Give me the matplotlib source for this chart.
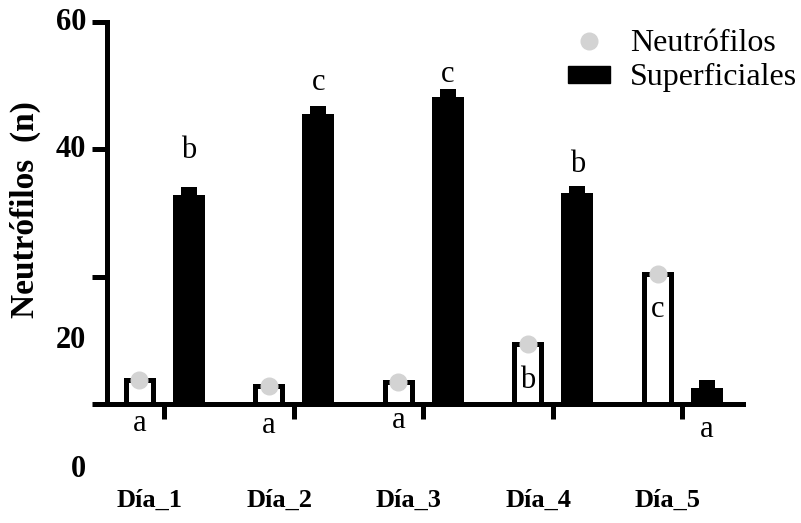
import matplotlib
matplotlib.use("Agg")
import matplotlib.pyplot as plt
from matplotlib.lines import Line2D
from matplotlib.patches import Patch
import numpy as np

plt.rcParams['font.family'] = ['Liberation Serif', 'DejaVu Serif']

# ---- data ----
days = ["Día_1", "Día_2", "Día_3", "Día_4", "Día_5"]
neutrofilos = [3.7, 2.8, 3.5, 9.5, 20.4]
superficiales = [32.8, 45.5, 48.2, 33.1, 2.5]
superficiales_err = [1.3, 1.3, 1.2, 1.2, 1.3]
letters_neu = ["a", "a", "a", "b", "c"]
letters_sup = ["b", "c", "c", "b", "a"]
y_ticks = [0, 20, 40, 60]
y_tick_labels = ["0", "20", "40", "60"]

# ---- layout / style ----
W, H = 801, 523
fig = plt.figure(figsize=(W / 100, H / 100), dpi=100)
ax = fig.add_axes([107 / W, 119 / H, 636 / W, 382 / H])
ax.set_xlim(-0.44, 4.47)
ax.set_ylim(0, 60)

x = np.arange(len(days))
off = 0.19
lw = 3.6

# Superficiales bars + thick error block
ax.bar(x + off, superficiales, width=0.247, color="black", zorder=2)
ax.bar(x + off, superficiales_err, bottom=superficiales, width=0.1235,
       color="black", zorder=2)

# Neutrófilos open bars + gray points
ax.bar(x - off, neutrofilos, width=0.2085, facecolor="white",
       edgecolor="black", linewidth=lw, zorder=2)
ax.plot(x - off, neutrofilos, ls="", marker="o", color="#d3d3d3",
        markersize=12, zorder=3, clip_on=False)

# spines / ticks
for s in ["top", "right"]:
    ax.spines[s].set_visible(False)
for s in ["left", "bottom"]:
    ax.spines[s].set_linewidth(lw)
ax.set_xticks(x)
ax.set_xticklabels([""] * len(x))
ax.set_yticks(y_ticks)
ax.set_yticklabels([""] * len(y_ticks))
ax.tick_params(axis="both", direction="out", length=10.8, width=lw)

# y tick labels (lower two shifted as in the reference)
label_y = [-10.3, 9.9, 40, 60]
for lab, yv in zip(y_tick_labels, label_y):
    ax.text(-0.60, yv, lab, ha="right", va="center", fontsize=22,
            fontweight="bold", clip_on=False)

# x category labels
for xi, d in zip(x, days):
    ax.text(xi - 0.11, -15.2, d, ha="center", va="center", fontsize=19,
            fontweight="bold", clip_on=False)

# significance letters
neu_letter_y = [-4.3, -4.55, -3.77, 2.5, 13.7]
sup_letter_y = [38.6, 49.3, 50.6, 36.4, -5.2]
for xi, l, yv in zip(x, letters_neu, neu_letter_y):
    ax.text(xi - off, yv, l, ha="center", va="baseline", fontsize=22,
            clip_on=False, zorder=4)
for xi, l, yv in zip(x, letters_sup, sup_letter_y):
    ax.text(xi + off, yv, l, ha="center", va="baseline", fontsize=22,
            clip_on=False, zorder=4)

# y-axis label
fig.text(25 / W, 1 - 210 / H, "Neutrófilos  (n)", rotation=90, ha="center",
         va="center", fontsize=24, fontweight="bold")

# legend
handles = [Line2D([], [], ls="", marker="o", color="#d3d3d3", markersize=12),
           Patch(facecolor="black", edgecolor="black")]
leg = fig.legend(handles, ["Neutrófilos", "Superficiales"], loc="upper left",
                 bbox_to_anchor=(568 / W, 1 - 29 / H), frameon=False,
                 fontsize=23, handlelength=1.31, handleheight=0.44,
                 handletextpad=0.63, labelspacing=0.17, borderpad=0,
                 borderaxespad=0)

fig.savefig("out.png", dpi=100)
